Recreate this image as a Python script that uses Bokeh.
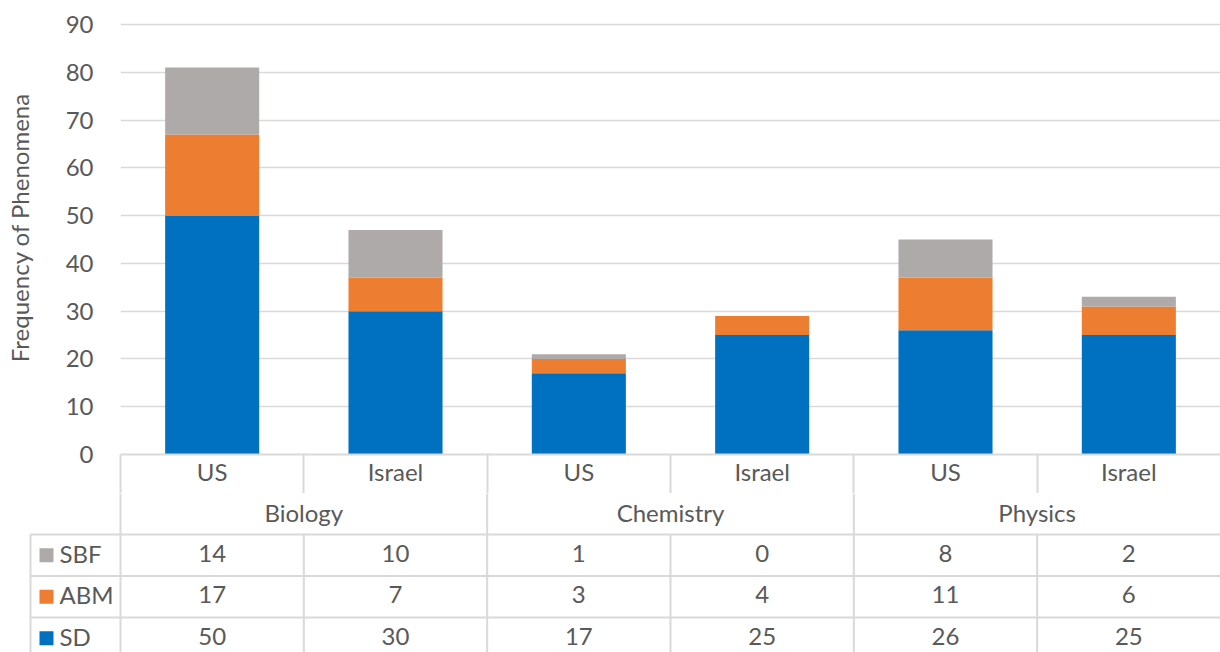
from bokeh.plotting import figure
from bokeh.layouts import column
from bokeh.models import (ColumnDataSource, Range1d, LinearAxis, FixedTicker, Grid,
                          CustomJSTickFormatter)
from bokeh.core.properties import value
from bokeh.embed import file_html
from bokeh.resources import INLINE

# ---- data ----
subjects = ["Biology", "Chemistry", "Physics"]
countries = ["US", "Israel", "US", "Israel", "US", "Israel"]
series = ["SBF", "ABM", "SD"]          # table row order (top to bottom)
sd = [50, 30, 17, 25, 26, 25]
abm = [17, 7, 3, 4, 11, 6]
sbf = [14, 10, 1, 0, 8, 2]
y_ticks = [0, 10, 20, 30, 40, 50, 60, 70, 80, 90]

colors = {"SD": "#0070C0", "ABM": "#ED7D31", "SBF": "#AEAAAA"}
values = {"SD": sd, "ABM": abm, "SBF": sbf}

FONT = "Lato"
TEXT = "#595959"
LINE = "#D9D9D9"
FS = "24px"

W = 1220
LEFT = 120                      # width of the value-axis gutter
TOP_H = 493                     # chart + category row
CAT_ROW = 39                    # height of the category label row
BOT_H = 652 - TOP_H             # group row + data table
n = len(countries)
unit = (W - LEFT) / n           # pixels per category

x = [i + 0.5 for i in range(n)]
src = ColumnDataSource(dict(x=x, SD=sd, ABM=abm, SBF=sbf))

# ---- stacked column chart ----
plot_h = TOP_H - CAT_ROW
y_top = 90 * plot_h / 430.0
p = figure(width=W, height=TOP_H, x_range=Range1d(0, n), y_range=Range1d(0, y_top),
           x_axis_type=None, y_axis_type=None, output_backend="svg",
           toolbar_location=None, min_border_left=LEFT, min_border_right=0,
           min_border_top=0, min_border_bottom=CAT_ROW, outline_line_color=None,
           background_fill_color="white", border_fill_color="white",
           frame_align=False)

yticker = FixedTicker(ticks=y_ticks)
yaxis = LinearAxis(ticker=yticker, axis_line_color=None, major_tick_line_color=None,
                   minor_tick_line_color=None, major_label_standoff=21,
                   major_label_text_font=FONT, major_label_text_font_size=FS,
                   major_label_text_color=TEXT,
                   axis_label="Frequency of Phenomena", axis_label_standoff=29,
                   axis_label_text_font=FONT, axis_label_text_font_size=FS,
                   axis_label_text_font_style="normal", axis_label_text_color=TEXT)
p.add_layout(yaxis, "left")
p.add_layout(Grid(dimension=1, ticker=yticker, grid_line_color=LINE, grid_line_width=1.5))

# category axis: country names, with separators drawn as long minor ticks
xticker = FixedTicker(ticks=x, minor_ticks=list(range(n)))
xaxis = LinearAxis(ticker=xticker,
                   formatter=CustomJSTickFormatter(args=dict(labels=countries),
                                                   code="return labels[Math.round(tick - 0.5)];"),
                   axis_line_color=LINE, axis_line_width=2,
                   major_tick_line_color=None, major_tick_out=0, major_tick_in=0,
                   minor_tick_line_color=LINE, minor_tick_line_width=2,
                   minor_tick_out=CAT_ROW, minor_tick_in=0,
                   major_label_standoff=-37, major_label_text_font=FONT,
                   major_label_text_font_size=FS, major_label_text_color=TEXT)
p.add_layout(xaxis, "below")

p.vbar_stack(["SD", "ABM", "SBF"], x="x", width=0.513, source=src,
             color=[colors["SD"], colors["ABM"], colors["SBF"]], line_color=None)

# ---- data table below the chart ----
q = figure(width=W, height=BOT_H, x_range=Range1d(-LEFT / unit, n),
           y_range=Range1d(BOT_H, 0), x_axis_type=None, y_axis_type=None,
           output_backend="svg", toolbar_location=None, min_border=0,
           min_border_left=0, min_border_right=0, min_border_top=0, min_border_bottom=0,
           outline_line_color=None, background_fill_color="white",
           border_fill_color="white", frame_align=False)
q.xgrid.visible = False
q.ygrid.visible = False

grp_h = 41
row_h = 41.5
tbl_left = -(LEFT - 30) / unit
nudge = 2                       # optical centring of text within a row

# group separators run through the whole table; country separators only in data rows
q.segment(x0=[0, 2, 4], y0=[0, 0, 0], x1=[0, 2, 4], y1=[BOT_H] * 3,
          line_color=LINE, line_width=2)
q.segment(x0=[1, 3, 5, tbl_left], y0=[grp_h] * 4, x1=[1, 3, 5, tbl_left],
          y1=[BOT_H] * 4, line_color=LINE, line_width=2)
hy = [grp_h + k * row_h for k in range(3)]
q.segment(x0=[tbl_left] * 3, y0=hy, x1=[n] * 3, y1=hy, line_color=LINE, line_width=2)

q.text(x=[1, 3, 5], y=[grp_h / 2 - nudge] * 3, text=subjects, text_align="center",
       text_baseline="middle", text_font=value(FONT), text_font_size=FS,
       text_color=TEXT)

for k, name in enumerate(series):
    yc = grp_h + (k + 0.5) * row_h
    q.text(x=x, y=[yc - nudge] * n, text=[str(v) for v in values[name]],
           text_align="center", text_baseline="middle", text_font=value(FONT),
           text_font_size=FS, text_color=TEXT)
    q.scatter(x=[-(LEFT - 46) / unit], y=[yc], marker="square", size=14,
              color=colors[name], line_color=None)
    q.text(x=[-(LEFT - 59) / unit], y=[yc - nudge], text=[name], text_align="left",
           text_baseline="middle", text_font=value(FONT), text_font_size=FS,
           text_color=TEXT)

layout = column(p, q, spacing=0)
open("out.html", "w").write(file_html(layout, INLINE))
